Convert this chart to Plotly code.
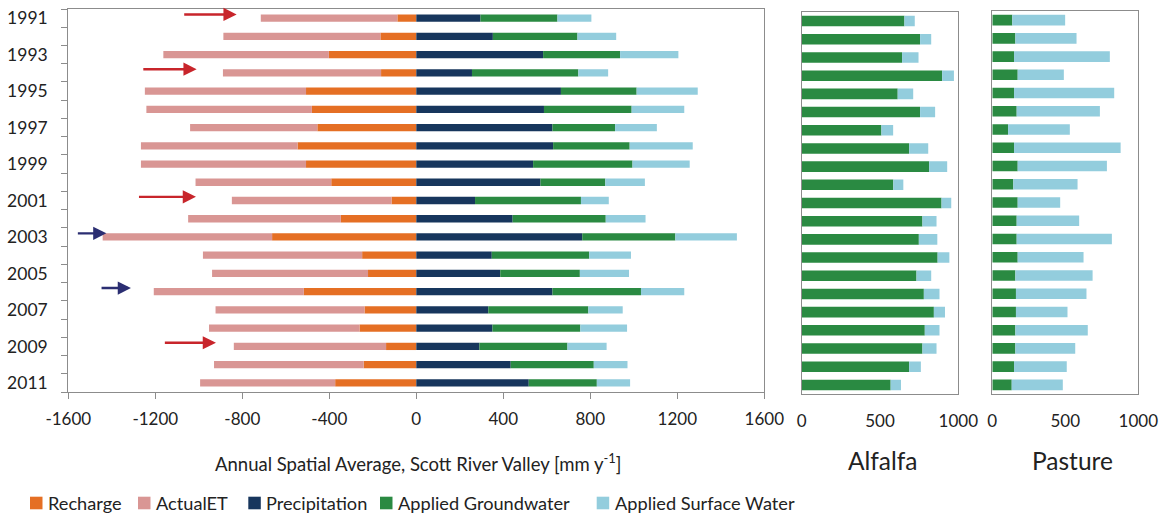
import plotly.graph_objects as go

# ---------------- data ----------------
years = list(range(1991, 2012))
recharge = [87, 165, 402, 162, 507, 480, 455, 546, 507, 391, 114,
            347, 663, 249, 222, 517, 238, 261, 139, 242, 373]
actual_et = [628, 722, 761, 727, 741, 761, 585, 720, 759, 624, 734,
             702, 779, 732, 717, 690, 685, 692, 700, 688, 621]
precipitation = [295, 352, 583, 256, 665, 587, 626, 629, 537, 571, 270,
                 443, 763, 347, 386, 626, 331, 350, 290, 434, 517]
applied_gw = [354, 389, 354, 489, 348, 403, 288, 352, 457, 298, 487,
              428, 428, 448, 366, 407, 460, 404, 405, 382, 313]
applied_sw = [156, 178, 268, 137, 281, 242, 192, 290, 263, 182, 128,
              183, 283, 192, 226, 199, 158, 215, 180, 155, 153]

alfalfa_gw = [656, 756, 641, 897, 613, 756, 509, 686, 814, 585, 893,
              771, 748, 868, 733, 780, 844, 786, 771, 686, 568]
alfalfa_sw = [66, 71, 105, 75, 99, 96, 75, 122, 115, 64, 62,
              90, 118, 75, 94, 100, 71, 94, 90, 75, 66]
pasture_gw = [137, 158, 149, 174, 149, 167, 108, 149, 174, 144, 174,
              167, 167, 174, 158, 162, 162, 158, 158, 149, 133]
pasture_sw = [362, 419, 656, 316, 686, 570, 423, 730, 611, 440, 291,
              428, 652, 451, 529, 483, 353, 496, 410, 361, 350]

series_names = ["Recharge", "ActualET", "Precipitation",
                "Applied Groundwater", "Applied Surface Water"]
left_ticks = [-1600, -1200, -800, -400, 0, 400, 800, 1200, 1600]
left_tick_labels = ["-1600", "-1200", "-800", "-400", "0", "400", "800", "1200", "1600"]
crop_ticks = [0, 500, 1000]
year_labels = [str(y) for y in range(1991, 2012, 2)]

# arrows: (year, tail x, head x, kind)
arrow_years = [1991, 1994, 2001, 2003, 2006, 2009]
arrow_tails = [-1074, -1262, -1282, -1563, -1454, -1163]
arrow_heads = [-826, -1010, -1013, -1425, -1312, -921]
arrow_kinds = ["dry", "dry", "dry", "wet", "wet", "dry"]

# ---------------- styles ----------------
W, H = 1162, 515
C_RECH = "#E56F24"
C_ET = "#D99694"
C_PREC = "#17365D"
C_GW = "#2A8A42"
C_SW = "#93CDDD"
colors = [C_RECH, C_ET, C_PREC, C_GW, C_SW]
ARROW_COL = {"dry": "#C8252B", "wet": "#2B2E72"}
FONT = "Lato"
TXT = "#222222"
BOX = "#8C8C8C"


def fx(px):
    return px / W


def fy(py):
    return 1 - py / H


fig = go.Figure()

left_vals = [[-v for v in recharge], [-v for v in actual_et],
             precipitation, applied_gw, applied_sw]
for name, vals, col in zip(series_names, left_vals, colors):
    fig.add_trace(go.Bar(y=years, x=vals, orientation="h", name=name,
                         marker=dict(color=col, line=dict(width=0)),
                         width=0.4, xaxis="x", yaxis="y", showlegend=False))

for vals, col, name in [(alfalfa_gw, C_GW, "Applied Groundwater"),
                        (alfalfa_sw, C_SW, "Applied Surface Water")]:
    fig.add_trace(go.Bar(y=years, x=vals, orientation="h", name=name,
                         marker=dict(color=col, line=dict(width=0)),
                         width=0.58, xaxis="x2", yaxis="y2", showlegend=False))

for vals, col, name in [(pasture_gw, C_GW, "Applied Groundwater"),
                        (pasture_sw, C_SW, "Applied Surface Water")]:
    fig.add_trace(go.Bar(y=years, x=vals, orientation="h", name=name,
                         marker=dict(color=col, line=dict(width=0)),
                         width=0.58, xaxis="x3", yaxis="y3", showlegend=False))

yr_range = [2011.5, 1990.5]
common_box = dict(showline=True, linecolor=BOX, linewidth=1.2, mirror=True,
                  showgrid=False, zeroline=False, automargin=False)

fig.update_layout(
    width=W, height=H,
    margin=dict(l=0, r=0, t=0, b=0),
    paper_bgcolor="white", plot_bgcolor="white",
    barmode="relative",
    font=dict(family=FONT, color=TXT, size=17),
    xaxis=dict(domain=[fx(68.3), fx(764.3)], range=[-1600, 1600],
               tickvals=left_ticks, ticktext=left_tick_labels,
               ticks="outside", ticklen=6,
               tickcolor=BOX, tickfont=dict(size=17),
               ticklabelstandoff=5, anchor="y", **common_box),
    yaxis=dict(domain=[fy(392), fy(9)], range=yr_range,
               tickvals=list(range(1991, 2012, 2)), ticktext=year_labels,
               ticks="", tickfont=dict(size=17.5), ticklabelstandoff=16,
               minor=dict(tickvals=[1990.5 + i for i in range(22)],
                          ticks="outside", ticklen=6, tickcolor=BOX),
               anchor="x", **common_box),
    xaxis2=dict(domain=[fx(801.7), fx(958.3)], range=[0, 1000],
                tickvals=crop_ticks, ticks="", tickfont=dict(size=17),
                ticklabelstandoff=11, anchor="y2", **common_box),
    yaxis2=dict(domain=[fy(394), fy(12)], range=yr_range,
                showticklabels=False, ticks="", anchor="x2", **common_box),
    xaxis3=dict(domain=[fx(992.3), fx(1138.3)], range=[0, 1000],
                tickvals=crop_ticks, ticks="", tickfont=dict(size=17),
                ticklabelstandoff=11, anchor="y3", **common_box),
    yaxis3=dict(domain=[fy(394), fy(11)], range=yr_range,
                showticklabels=False, ticks="", anchor="x3", **common_box),
)

annotations = []
# arrows
for yr, tail, head, kind in zip(arrow_years, arrow_tails, arrow_heads, arrow_kinds):
    annotations.append(dict(x=head, y=yr - 0.2, ax=tail, ay=yr - 0.2,
                            xref="x", yref="y", axref="x", ayref="y",
                            text="", showarrow=True, arrowhead=2,
                            arrowsize=1.1, arrowwidth=2.4,
                            arrowcolor=ARROW_COL[kind]))
# titles
annotations.append(dict(x=fx(418), y=fy(462), xref="paper", yref="paper",
                        text="Annual Spatial Average, Scott River Valley [mm y<sup>-1</sup>]",
                        showarrow=False, xanchor="center", yanchor="middle",
                        font=dict(size=18.5, family=FONT, color=TXT)))
annotations.append(dict(x=fx(882), y=fy(460), xref="paper", yref="paper",
                        text="Alfalfa", showarrow=False, xanchor="center",
                        yanchor="middle", font=dict(size=24.5, family=FONT, color=TXT)))
annotations.append(dict(x=fx(1072), y=fy(460), xref="paper", yref="paper",
                        text="Pasture", showarrow=False, xanchor="center",
                        yanchor="middle", font=dict(size=24.5, family=FONT, color=TXT)))

# manual legend
leg_sq_x = [30, 138, 248.3, 380, 596.7]
leg_y = 503
shapes = []
for name, col, sx in zip(series_names, colors, leg_sq_x):
    shapes.append(dict(type="rect", xref="paper", yref="paper",
                       x0=fx(sx), x1=fx(sx + 12.5), y0=fy(leg_y + 6.3),
                       y1=fy(leg_y - 6.3), fillcolor=col, line=dict(width=0)))
    annotations.append(dict(x=fx(sx + 16), y=fy(leg_y), xref="paper", yref="paper",
                            text=name, showarrow=False, xanchor="left",
                            yanchor="middle", font=dict(size=18.2, family=FONT, color=TXT)))

fig.update_layout(annotations=annotations, shapes=shapes)

fig.write_html("out.html",
               config={"displayModeBar": False},
               post_script="document.body.style.margin='0';document.body.style.overflow='hidden';")
